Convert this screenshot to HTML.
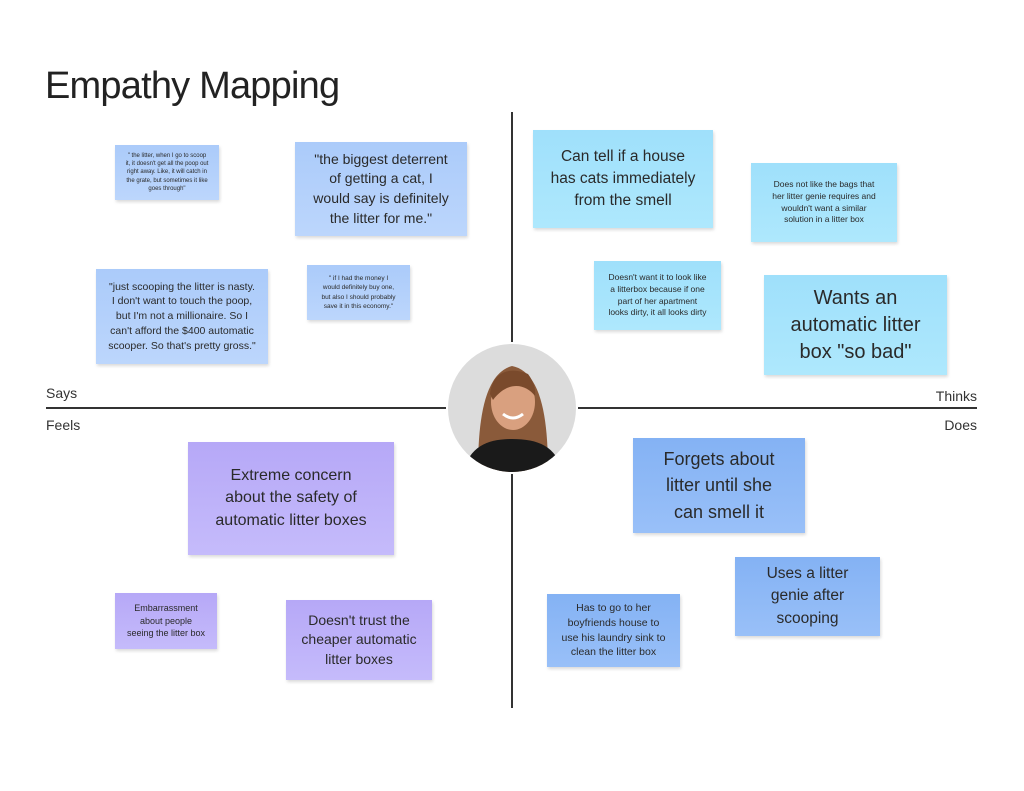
<!DOCTYPE html>
<html><head><meta charset="utf-8"><style>
body{margin:0;width:1024px;height:791px;background:#fff;position:relative;overflow:hidden;font-family:"Liberation Sans",sans-serif;color:#222}
.n{position:absolute;display:flex;align-items:center;justify-content:center;text-align:center;box-sizing:border-box;padding:2px;line-height:1.4;color:#2a2a2a;box-shadow:1px 2px 3px rgba(0,0,0,.15);white-space:nowrap}
.s{background:linear-gradient(#abcbfa,#bcd6fc)}
.t{background:linear-gradient(#9fe0fb,#aee8fd)}
.f{background:linear-gradient(#b6a8f7,#c5bbfb)}
.d{background:linear-gradient(#84b2f4,#99c0f8)}
.l{position:absolute;font-size:14px;color:#333}
</style></head><body>
<div style="position:absolute;left:45px;top:65px;font-size:38px;letter-spacing:-0.8px;color:#222">Empathy Mapping</div>
<div style="position:absolute;left:46px;top:407px;width:400px;height:2px;background:#333"></div>
<div style="position:absolute;left:578px;top:407px;width:399px;height:2px;background:#333"></div>
<div style="position:absolute;left:511px;top:112px;width:2px;height:230px;background:#333"></div>
<div style="position:absolute;left:511px;top:474px;width:2px;height:234px;background:#333"></div>
<div class="l" style="left:46px;top:385px">Says</div>
<div class="l" style="right:47px;top:388px">Thinks</div>
<div class="l" style="left:46px;top:417px">Feels</div>
<div class="l" style="right:47px;top:417px">Does</div>
<svg style="position:absolute;left:448px;top:344px" width="128" height="128" viewBox="0 0 128 128">
<defs><clipPath id="c"><circle cx="64" cy="64" r="64"/></clipPath></defs>
<g clip-path="url(#c)">
<rect width="128" height="128" fill="#dcdcdc"/>
<path d="M30 128 C30 80 35 30 64 22 C95 28 100 80 100 128Z" fill="#8a5a3a"/>
<path d="M15 128 C22 102 40 95 64 95 C90 95 108 102 115 128Z" fill="#1a1a1a"/>
<ellipse cx="65" cy="58" rx="22" ry="28" fill="#d9a07f"/>
<path d="M42 50 C44 28 62 22 80 30 C86 38 88 46 87 52 C78 40 60 36 45 56Z" fill="#7a4a2c"/>
<path d="M55 70 Q65 78 75 70" stroke="#fff" stroke-width="3" fill="none"/>
</g></svg>
<div class="n s" style="left:115px;top:145px;width:104px;height:55px;font-size:6px">" the litter, when I go to scoop<br>it, it doesn't get all the poop out<br>right away. Like, it will catch in<br>the grate, but sometimes it like<br>goes through"</div>
<div class="n s" style="left:295px;top:142px;width:172px;height:94px;font-size:14px;line-height:1.4">"the biggest deterrent<br>of getting a cat, I<br>would say is definitely<br>the litter for me."</div>
<div class="n s" style="left:96px;top:269px;width:172px;height:95px;font-size:10.5px">"just scooping the litter is nasty.<br>I don't want to touch the poop,<br>but I'm not a millionaire. So I<br>can't afford the $400 automatic<br>scooper. So that's pretty gross."</div>
<div class="n s" style="left:307px;top:265px;width:103px;height:55px;font-size:6.5px">" if I had the money I<br>would definitely buy one,<br>but also I should probably<br>save it in this economy."</div>
<div class="n t" style="left:533px;top:130px;width:180px;height:98px;font-size:15.5px">Can tell if a house<br>has cats immediately<br>from the smell</div>
<div class="n t" style="left:751px;top:163px;width:146px;height:79px;font-size:8.5px">Does not like the bags that<br>her litter genie requires and<br>wouldn't want a similar<br>solution in a litter box</div>
<div class="n t" style="left:594px;top:261px;width:127px;height:69px;font-size:8.5px">Doesn't want it to look like<br>a litterbox because if one<br>part of her apartment<br>looks dirty, it all looks dirty</div>
<div class="n t" style="left:764px;top:275px;width:183px;height:100px;font-size:20px;line-height:1.35">Wants an<br>automatic litter<br>box "so bad"</div>
<div class="n f" style="left:188px;top:442px;width:206px;height:113px;font-size:16px">Extreme concern<br>about the safety of<br>automatic litter boxes</div>
<div class="n f" style="left:115px;top:593px;width:102px;height:56px;font-size:9px">Embarrassment<br>about people<br>seeing the litter box</div>
<div class="n f" style="left:286px;top:600px;width:146px;height:80px;font-size:14px;line-height:1.4">Doesn't trust the<br>cheaper automatic<br>litter boxes</div>
<div class="n d" style="left:633px;top:438px;width:172px;height:95px;font-size:18px;line-height:1.45">Forgets about<br>litter until she<br>can smell it</div>
<div class="n d" style="left:547px;top:594px;width:133px;height:73px;font-size:10.5px">Has to go to her<br>boyfriends house to<br>use his laundry sink to<br>clean the litter box</div>
<div class="n d" style="left:735px;top:557px;width:145px;height:79px;font-size:15.5px;line-height:1.45">Uses a litter<br>genie after<br>scooping</div>
</body></html>
